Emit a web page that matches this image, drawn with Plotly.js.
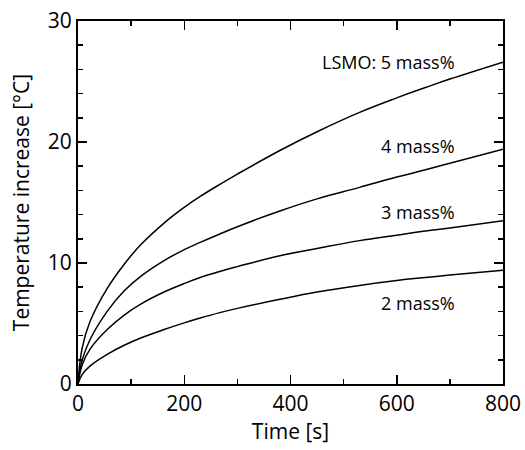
<!DOCTYPE html>
<html>
<head>
<meta charset="utf-8">
<script src="https://cdn.plot.ly/plotly-3.0.1.min.js"></script>
<style>html,body{margin:0;padding:0;background:#fff;}#chart{width:525px;height:450px;}</style>
</head>
<body>
<div id="chart"></div>
<script>
const time  = [0, 8, 23, 55, 87, 118, 162, 200, 230, 267, 300, 380, 450, 530, 600, 654, 700, 800];
const mass5 = [0, 3.0, 5.2, 7.9, 9.9, 11.5, 13.3, 14.6, 15.5, 16.5, 17.35, 19.3, 20.85, 22.45, 23.65, 24.5, 25.2, 26.6];
const mass4 = [0, 2.0, 3.7, 6.0, 7.7, 8.9, 10.2, 11.1, 11.7, 12.4, 13.0, 14.3, 15.3, 16.25, 17.1, 17.7, 18.25, 19.4];
const mass3 = [0, 1.6, 2.9, 4.5, 5.7, 6.6, 7.6, 8.3, 8.8, 9.3, 9.7, 10.6, 11.2, 11.85, 12.3, 12.65, 12.9, 13.5];
const mass2 = [0, 0.8, 1.5, 2.45, 3.2, 3.8, 4.5, 5.05, 5.45, 5.9, 6.25, 7.0, 7.6, 8.15, 8.55, 8.8, 9.0, 9.4];
const labels = ["LSMO: 5 mass%", "4 mass%", "3 mass%", "2 mass%"];
const labelY = [26.6, 19.7, 14.2, 6.7];
const labelX = 713;

const series = [mass5, mass4, mass3, mass2];
const traces = series.map(s => ({
  x: time, y: s, type: 'scatter', mode: 'lines',
  line: {color: '#000', width: 1.5, shape: 'spline', smoothing: 1.2},
  showlegend: false, hoverinfo: 'skip'
}));

const font = "'Open Sans', 'DejaVu Sans', sans-serif";
const axisCommon = {
  showgrid: false, zeroline: false, showline: true, linecolor: '#000', linewidth: 2,
  mirror: 'allticks', ticks: 'inside', ticklen: 9, tickwidth: 1.5, tickcolor: '#000',
  tickfont: {family: font, size: 21, color: '#000'}
};

const layout = {
  width: 525, height: 450,
  margin: {l: 78, r: 22, t: 21, b: 66},
  paper_bgcolor: '#fff', plot_bgcolor: '#fff',
  font: {family: font, color: '#000'},
  xaxis: Object.assign({}, axisCommon, {
    range: [0, 800], dtick: 200, tick0: 0,
    minor: {dtick: 100, ticks: 'inside', ticklen: 5, tickwidth: 1.5, tickcolor: '#000'},
    title: {text: 'Time [s]', font: {family: font, size: 21, color: '#000'}, standoff: 2}
  }),
  yaxis: Object.assign({}, axisCommon, {
    range: [0, 30], dtick: 10, tick0: 0,
    minor: {dtick: 2, ticks: 'inside', ticklen: 5, tickwidth: 1.5, tickcolor: '#000'},
    title: {text: 'Temperature increase [°C]', font: {family: font, size: 21, color: '#000'}, standoff: 12}
  }),
  annotations: labels.map((t, i) => ({
    x: labelX, y: labelY[i], xref: 'x', yref: 'y', text: t, showarrow: false,
    xanchor: 'right', yanchor: 'middle', font: {family: font, size: 18, color: '#000'}
  }))
};

Plotly.newPlot('chart', traces, layout, {displayModeBar: false, staticPlot: true});
</script>
</body>
</html>
